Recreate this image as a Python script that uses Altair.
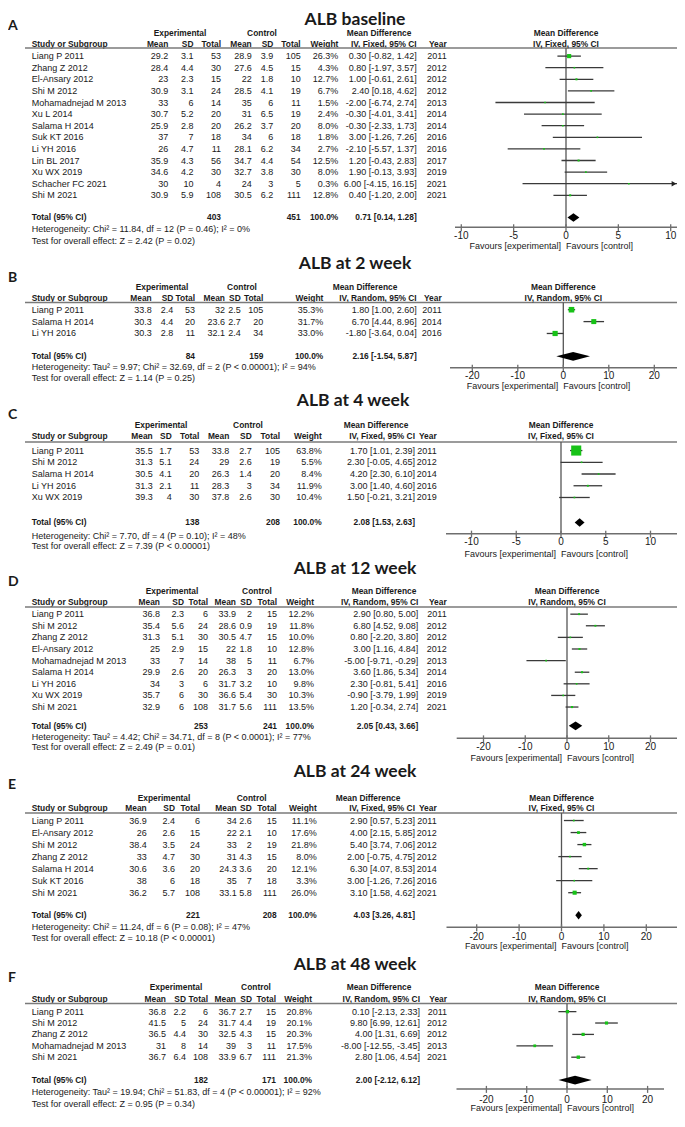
import altair as alt
import pandas as pd

FONT = "Liberation Sans"
TFONT = "Lato"
TXT = "#1a1a1a"
GREEN = "#17c217"
FS = 9.0
HFS = 8.4

# ---------------- data ----------------
# Panel A : ALB baseline (IV, Fixed)
A_study = ["Liang P 2011", "Zhang Z 2012", "El-Ansary 2012", "Shi M 2012", "Mohamadnejad  M 2013",
           "Xu L 2014", "Salama H 2014", "Suk KT 2016", "Li YH 2016", "Lin BL 2017", "Xu WX 2019",
           "Schacher FC 2021", "Shi M 2021"]
A_exp_mean = [29.2, 28.4, 23, 30.9, 33, 30.7, 25.9, 37, 26, 35.9, 34.6, 30, 30.9]
A_exp_sd = [3.1, 4.4, 2.3, 3.1, 6, 5.2, 2.8, 7, 4.7, 4.3, 4.2, 10, 5.9]
A_exp_n = [53, 30, 15, 24, 14, 20, 20, 18, 11, 56, 30, 4, 108]
A_ctl_mean = [28.9, 27.6, 22, 28.5, 35, 31, 26.2, 34, 28.1, 34.7, 32.7, 24, 30.5]
A_ctl_sd = [3.9, 4.5, 1.8, 4.1, 6, 6.5, 3.7, 6, 6.2, 4.4, 3.8, 3, 6.2]
A_ctl_n = [105, 15, 10, 19, 11, 19, 20, 18, 34, 54, 30, 5, 111]
A_weight = [26.3, 4.3, 12.7, 6.7, 1.5, 2.4, 8.0, 1.8, 2.7, 12.5, 8.0, 0.3, 12.8]
A_md = [0.30, 0.80, 1.00, 2.40, -2.00, -0.30, -0.30, 3.00, -2.10, 1.20, 1.90, 6.00, 0.40]
A_lo = [-0.82, -1.97, -0.61, 0.18, -6.74, -4.01, -2.33, -1.26, -5.57, -0.43, -0.13, -4.15, -1.20]
A_hi = [1.42, 3.57, 2.61, 4.62, 2.74, 3.41, 1.73, 7.26, 1.37, 2.83, 3.93, 16.15, 2.00]
A_year = [2011, 2012, 2012, 2012, 2013, 2014, 2014, 2016, 2016, 2017, 2019, 2021, 2021]
A_total = [403, 451, 0.71, 0.14, 1.28]
A_het = "Heterogeneity: Chi² = 11.84, df = 12 (P = 0.46); I² = 0%"
A_test = "Test for overall effect: Z = 2.42 (P = 0.02)"
A_ticks = [-10, -5, 0, 5, 10]

# Panel B : ALB at 2 week (IV, Random)
B_study = ["Liang P 2011", "Salama H 2014", "Li YH 2016"]
B_exp_mean = [33.8, 30.3, 30.3]
B_exp_sd = [2.4, 4.4, 2.8]
B_exp_n = [53, 20, 11]
B_ctl_mean = [32, 23.6, 32.1]
B_ctl_sd = [2.5, 2.7, 2.4]
B_ctl_n = [105, 20, 34]
B_weight = [35.3, 31.7, 33.0]
B_md = [1.80, 6.70, -1.80]
B_lo = [1.00, 4.44, -3.64]
B_hi = [2.60, 8.96, 0.04]
B_year = [2011, 2014, 2016]
B_total = [84, 159, 2.16, -1.54, 5.87]
B_het = "Heterogeneity: Tau² = 9.97; Chi² = 32.69, df = 2 (P < 0.00001); I² = 94%"
B_test = "Test for overall effect: Z = 1.14 (P = 0.25)"
B_ticks = [-20, -10, 0, 10, 20]

# Panel C : ALB at 4 week (IV, Fixed)
C_study = ["Liang P 2011", "Shi M 2012", "Salama H 2014", "Li YH 2016", "Xu WX 2019"]
C_exp_mean = [35.5, 31.3, 30.5, 31.3, 39.3]
C_exp_sd = [1.7, 5.1, 4.1, 2.1, 4]
C_exp_n = [53, 24, 20, 11, 30]
C_ctl_mean = [33.8, 29, 26.3, 28.3, 37.8]
C_ctl_sd = [2.7, 2.6, 1.4, 3, 2.6]
C_ctl_n = [105, 19, 20, 34, 30]
C_weight = [63.8, 5.5, 8.4, 11.9, 10.4]
C_md = [1.70, 2.30, 4.20, 3.00, 1.50]
C_lo = [1.01, -0.05, 2.30, 1.40, -0.21]
C_hi = [2.39, 4.65, 6.10, 4.60, 3.21]
C_year = [2011, 2012, 2014, 2016, 2019]
C_total = [138, 208, 2.08, 1.53, 2.63]
C_het = "Heterogeneity: Chi² = 7.70, df = 4 (P = 0.10); I² = 48%"
C_test = "Test for overall effect: Z = 7.39 (P < 0.00001)"
C_ticks = [-10, -5, 0, 5, 10]

# Panel D : ALB at 12 week (IV, Random)
D_study = ["Liang P 2011", "Shi M 2012", "Zhang Z 2012", "El-Ansary 2012", "Mohamadnejad  M 2013",
           "Salama H 2014", "Li YH 2016", "Xu WX 2019", "Shi M 2021"]
D_exp_mean = [36.8, 35.4, 31.3, 25, 33, 29.9, 34, 35.7, 32.9]
D_exp_sd = [2.3, 5.6, 5.1, 2.9, 7, 2.6, 3, 6, 6]
D_exp_n = [6, 24, 30, 15, 14, 20, 6, 30, 108]
D_ctl_mean = [33.9, 28.6, 30.5, 22, 38, 26.3, 31.7, 36.6, 31.7]
D_ctl_sd = [2, 0.9, 4.7, 1.8, 5, 3, 3.2, 5.4, 5.6]
D_ctl_n = [15, 19, 15, 10, 11, 20, 10, 30, 111]
D_weight = [12.2, 11.8, 10.0, 12.8, 6.7, 13.0, 9.8, 10.3, 13.5]
D_md = [2.90, 6.80, 0.80, 3.00, -5.00, 3.60, 2.30, -0.90, 1.20]
D_lo = [0.80, 4.52, -2.20, 1.16, -9.71, 1.86, -0.81, -3.79, -0.34]
D_hi = [5.00, 9.08, 3.80, 4.84, -0.29, 5.34, 5.41, 1.99, 2.74]
D_year = [2011, 2012, 2012, 2012, 2013, 2014, 2016, 2019, 2021]
D_total = [253, 241, 2.05, 0.43, 3.66]
D_het = "Heterogeneity: Tau² = 4.42; Chi² = 34.71, df = 8 (P < 0.0001); I² = 77%"
D_test = "Test for overall effect: Z = 2.49 (P = 0.01)"
D_ticks = [-20, -10, 0, 10, 20]

# Panel E : ALB at 24 week (IV, Fixed)
E_study = ["Liang P 2011", "El-Ansary 2012", "Shi M 2012", "Zhang Z 2012", "Salama H 2014",
           "Suk KT 2016", "Shi M 2021"]
E_exp_mean = [36.9, 26, 38.4, 33, 30.6, 38, 36.2]
E_exp_sd = [2.4, 2.6, 3.5, 4.7, 3.6, 6, 5.7]
E_exp_n = [6, 15, 24, 30, 20, 18, 108]
E_ctl_mean = [34, 22, 33, 31, 24.3, 35, 33.1]
E_ctl_sd = [2.6, 2.1, 2, 4.3, 3.6, 7, 5.8]
E_ctl_n = [15, 10, 19, 15, 20, 18, 111]
E_weight = [11.1, 17.6, 21.8, 8.0, 12.1, 3.3, 26.0]
E_md = [2.90, 4.00, 5.40, 2.00, 6.30, 3.00, 3.10]
E_lo = [0.57, 2.15, 3.74, -0.75, 4.07, -1.26, 1.58]
E_hi = [5.23, 5.85, 7.06, 4.75, 8.53, 7.26, 4.62]
E_year = [2011, 2012, 2012, 2012, 2014, 2016, 2021]
E_total = [221, 208, 4.03, 3.26, 4.81]
E_het = "Heterogeneity: Chi² = 11.24, df = 6 (P = 0.08); I² = 47%"
E_test = "Test for overall effect: Z = 10.18 (P < 0.00001)"
E_ticks = [-20, -10, 0, 10, 20]

# Panel F : ALB at 48 week (IV, Random)
F_study = ["Liang P 2011", "Shi M 2012", "Zhang Z 2012", "Mohamadnejad  M 2013", "Shi M 2021"]
F_exp_mean = [36.8, 41.5, 36.5, 31, 36.7]
F_exp_sd = [2.2, 5, 4.4, 8, 6.4]
F_exp_n = [6, 24, 30, 14, 108]
F_ctl_mean = [36.7, 31.7, 32.5, 39, 33.9]
F_ctl_sd = [2.7, 4.4, 4.3, 3, 6.7]
F_ctl_n = [15, 19, 15, 11, 111]
F_weight = [20.8, 20.1, 20.3, 17.5, 21.3]
F_md = [0.10, 9.80, 4.00, -8.00, 2.80]
F_lo = [-2.13, 6.99, 1.31, -12.55, 1.06]
F_hi = [2.33, 12.61, 6.69, -3.45, 4.54]
F_year = [2011, 2012, 2012, 2013, 2021]
F_total = [182, 171, 2.00, -2.12, 6.12]
F_het = "Heterogeneity: Tau² = 19.94; Chi² = 51.83, df = 4 (P < 0.00001); I² = 92%"
F_test = "Test for overall effect: Z = 0.95 (P = 0.34)"
F_ticks = [-20, -10, 0, 10, 20]

titles = ["ALB baseline", "ALB at 2 week", "ALB at 4 week", "ALB at 12 week", "ALB at 24 week", "ALB at 48 week"]
letters = ["A", "B", "C", "D", "E", "F"]
methods = ["IV, Fixed, 95% CI", "IV, Random, 95% CI", "IV, Fixed, 95% CI",
           "IV, Random, 95% CI", "IV, Fixed, 95% CI", "IV, Random, 95% CI"]

# ---------------- layout (reference page pixels) ----------------
LAYOUT = [
    dict(title_x=355, title_y=9, letter_y=15, h1=21.7, h2=33.3, line=37.3, row0=45.7, step=11.86,
         total=210.7, het=222.7, test=234.3, axis=220.7, ticklab=230, fav=240,
         cols=[31.7, 168.3, 193.5, 221, 251.7, 273.3, 300.7, 338.3, 416.7, 446.7],
         hx=[180, 262, 379], zero=566, ppu=10.47, axL=455, axR=677),
    dict(title_x=355, title_y=258, letter_y=272.3, h1=281.7, h2=292.7, line=297.5, row0=305, step=12.15,
         total=352.7, het=364, test=375.3, axis=364.3, ticklab=372.7, fav=383.5,
         cols=[31.7, 151.7, 173.3, 195, 225, 240.7, 263.3, 323.3, 416.7, 441.7],
         hx=[162, 242, 365], zero=563.3, ppu=4.55, axL=450, axR=677),
    dict(title_x=353, title_y=398.5, letter_y=412.5, h1=423.3, h2=434.3, line=440.3, row0=449, step=12.0,
         total=522.5, het=536.7, test=546.7, axis=534, ticklab=542.7, fav=554.3,
         cols=[31.7, 152.7, 171.7, 199.3, 229.3, 251.7, 280, 321.7, 415, 436.7],
         hx=[161, 248, 376], zero=561, ppu=8.95, axL=446, axR=677),
    dict(title_x=355, title_y=570, letter_y=583, h1=592.7, h2=604, line=609, row0=616.3, step=11.87,
         total=730.5, het=741.7, test=751.7, axis=743.3, ticklab=752.3, fav=763.3,
         cols=[31.7, 160, 184, 208, 236, 252, 277, 314, 418.3, 446.7],
         hx=[172, 257, 384], zero=567, ppu=4.175, axL=456.7, axR=677),
    dict(title_x=355, title_y=778, letter_y=791, h1=804.3, h2=814, line=819.5, row0=827.3, step=12.3,
         total=924.2, het=936, test=947.5, axis=936.5, ticklab=946, fav=956,
         cols=[31.7, 146.7, 175, 200, 236.7, 251.7, 276.7, 316.7, 415, 436.7],
         hx=[164, 251.7, 368], zero=561.5, ppu=4.24, axL=446.5, axR=677),
    dict(title_x=355, title_y=975, letter_y=988, h1=998, h2=1010, line=1014.5, row0=1022.7, step=11.65,
         total=1092.7, het=1104.7, test=1116.7, axis=1101.7, ticklab=1112.7, fav=1121.7,
         cols=[31.7, 166, 186, 208, 236, 252, 276, 312, 420, 447],
         hx=[176, 256, 379], zero=567, ppu=4.03, axL=456.5, axR=664),
]

W, H = 669, 1108
KY = 0.978


def X(px):
    return min(max(px - 8, 0), W)


def Y(py):
    return (py + 3.5) * KY


ONE = pd.DataFrame({"z": [0]})


def num(v):
    return f"{v:g}"


def vtext(s, x, y, align="left", bold=False, size=FS, font=FONT):
    return alt.Chart(ONE).mark_text(
        text=s, align=align, baseline="middle", font=font, fontSize=size,
        fontWeight="bold" if bold else "normal", color=TXT
    ).encode(x=alt.value(x), y=alt.value(y))


def panel(i, P):
    L = LAYOUT[i]
    n = len(P["study"])
    c = L["cols"]
    ys = alt.Scale(domain=[0, 1], range=[Y(L["row0"]), Y(L["row0"] + L["step"])], zero=False, nice=False)
    dmin = (L["axL"] - L["zero"]) / L["ppu"]
    dmax = (L["axR"] - L["zero"]) / L["ppu"]
    xs = alt.Scale(domain=[dmin, dmax], range=[X(L["axL"]), X(L["axR"])], zero=False, nice=False, clamp=True)
    yrow = alt.Y("row:Q", scale=ys, axis=None)

    rows = pd.DataFrame({
        "row": list(range(n)),
        "name": P["study"],
        "m1": [num(v) for v in P["exp_mean"]],
        "sd1": [num(v) for v in P["exp_sd"]],
        "n1": [num(v) for v in P["exp_n"]],
        "m2": [num(v) for v in P["ctl_mean"]],
        "sd2": [num(v) for v in P["ctl_sd"]],
        "n2": [num(v) for v in P["ctl_n"]],
        "w": [f"{v:.1f}%" for v in P["weight"]],
        "ci": [f"{m:.2f} [{a:.2f}, {b:.2f}]" for m, a, b in zip(P["md"], P["lo"], P["hi"])],
        "yr": [str(v) for v in P["year"]],
        "md": P["md"], "lo": P["lo"], "hi": P["hi"],
        "sq": [max(1.6, 0.158 * v) ** 2 for v in P["weight"]],
    })
    T = P["total"]
    r_t = (L["total"] - L["row0"]) / L["step"]
    tot = pd.DataFrame({
        "row": [r_t], "name": ["Total (95% CI)"], "n1": [num(T[0])], "n2": [num(T[1])],
        "w": ["100.0%"], "ci": [f"{T[2]:.2f} [{T[3]:.2f}, {T[4]:.2f}]"],
    })
    hh = 4.3 / (L["step"] * KY)
    dia = pd.DataFrame({"x": [T[3], T[2], T[4]], "y": [r_t, r_t - hh, r_t], "y2": [r_t, r_t + hh, r_t]})
    ticks = pd.DataFrame({"t": P["ticks"], "lab": [str(t) for t in P["ticks"]]})
    ends = pd.DataFrame({"a": [dmin], "b": [dmax]})

    layers = []
    # title and letter
    layers.append(vtext(titles[i], X(L["title_x"]), Y(L["title_y"]), align="center", bold=True, size=17.5, font=TFONT))
    layers.append(vtext(letters[i], 0, Y(L["letter_y"]), align="left", bold=True, size=14, font=TFONT))
    # header rows
    layers.append(vtext("Experimental", X(L["hx"][0]), Y(L["h1"]), align="center", bold=True, size=HFS))
    layers.append(vtext("Control", X(L["hx"][1]), Y(L["h1"]), align="center", bold=True, size=HFS))
    layers.append(vtext("Mean Difference", X(L["hx"][2]), Y(L["h1"]), align="center", bold=True, size=HFS))
    layers.append(vtext("Study or Subgroup", X(c[0]), Y(L["h2"]), align="left", bold=True, size=HFS))
    heads = ["Mean", "SD", "Total", "Mean", "SD", "Total", "Weight", methods[i], "Year"]
    for k, h in enumerate(heads):
        layers.append(vtext(h, X(c[k + 1]), Y(L["h2"]), align="right", bold=True, size=HFS))
    # header line
    layers.append(alt.Chart(ONE).mark_rule(color="#7a7a7a", strokeWidth=1.5).encode(
        x=alt.value(X(25)), x2=alt.value(W), y=alt.value(Y(L["line"]))))
    # study rows
    layers.append(alt.Chart(rows).mark_text(align="left", font=FONT, fontSize=FS, color=TXT).encode(
        x=alt.value(X(c[0])), y=yrow, text="name:N"))
    for k, col in enumerate(["m1", "sd1", "n1", "m2", "sd2", "n2", "w", "ci", "yr"]):
        layers.append(alt.Chart(rows).mark_text(align="right", font=FONT, fontSize=FS, color=TXT).encode(
            x=alt.value(X(c[k + 1])), y=yrow, text=f"{col}:N"))
    # total row
    layers.append(alt.Chart(tot).mark_text(align="left", font=FONT, fontSize=HFS, fontWeight="bold", color=TXT).encode(
        x=alt.value(X(c[0])), y=yrow, text="name:N"))
    for col, k in [("n1", 3), ("n2", 6), ("w", 7), ("ci", 8)]:
        layers.append(alt.Chart(tot).mark_text(align="right", font=FONT, fontSize=HFS, fontWeight="bold", color=TXT).encode(
            x=alt.value(X(c[k])), y=yrow, text=f"{col}:N"))
    # footnotes
    layers.append(vtext(P["het"], X(c[0]), Y(L["het"])))
    layers.append(vtext(P["test"], X(c[0]), Y(L["test"])))

    # forest plot
    xz = alt.X("z:Q", scale=xs, axis=None)
    layers.append(alt.Chart(ONE).mark_text(text="Mean Difference", font=FONT, fontSize=HFS, fontWeight="bold", color=TXT).encode(
        x=xz, y=alt.value(Y(L["h1"]))))
    layers.append(alt.Chart(ONE).mark_text(text=methods[i], font=FONT, fontSize=HFS, fontWeight="bold", color=TXT).encode(
        x=xz, y=alt.value(Y(L["h2"]))))
    layers.append(alt.Chart(ONE).mark_rule(color="#555555", strokeWidth=1.3).encode(
        x=xz, y=alt.value(Y(L["line"])), y2=alt.value(Y(L["axis"]))))
    layers.append(alt.Chart(rows).mark_rule(color="#3a3a3a", strokeWidth=1.3).encode(
        x=alt.X("lo:Q", scale=xs, axis=None), x2="hi:Q", y=yrow))
    layers.append(alt.Chart(rows).mark_square(color=GREEN, opacity=1).encode(
        x=alt.X("md:Q", scale=xs, axis=None), y=yrow, size=alt.Size("sq:Q", scale=None)))
    over = rows[rows["hi"] > dmax]
    if len(over):
        layers.append(alt.Chart(over).mark_point(shape="triangle-right", filled=True, color="#222222", opacity=1, size=30, xOffset=-3).encode(
            x=alt.X("hi:Q", scale=xs, axis=None), y=yrow))
    layers.append(alt.Chart(dia).mark_area(color="#000000", orient="vertical", opacity=1).encode(
        x=alt.X("x:Q", scale=xs, axis=None), y=alt.Y("y:Q", scale=ys, axis=None), y2="y2:Q"))
    # axis
    ay = Y(L["axis"])
    layers.append(alt.Chart(ends).mark_rule(color="#6e6e6e", strokeWidth=1.5).encode(
        x=alt.X("a:Q", scale=xs, axis=None), x2="b:Q", y=alt.value(ay)))
    layers.append(alt.Chart(ticks).mark_rule(color="#6e6e6e", strokeWidth=1.3).encode(
        x=alt.X("t:Q", scale=xs, axis=None), y=alt.value(ay - 3), y2=alt.value(ay + 4)))
    layers.append(alt.Chart(ticks).mark_text(font=FONT, fontSize=10, color=TXT).encode(
        x=alt.X("t:Q", scale=xs, axis=None), y=alt.value(Y(L["ticklab"])), text="lab:N"))
    layers.append(alt.Chart(ONE).mark_text(text="Favours [experimental]", align="right", dx=-5, font=FONT, fontSize=FS, color=TXT).encode(
        x=xz, y=alt.value(Y(L["fav"]))))
    layers.append(alt.Chart(ONE).mark_text(text="Favours [control]", align="left", dx=0, font=FONT, fontSize=FS, color=TXT).encode(
        x=xz, y=alt.value(Y(L["fav"]))))
    return alt.layer(*layers)


def pack(prefix):
    g = globals()
    return dict(study=g[prefix + "_study"], exp_mean=g[prefix + "_exp_mean"], exp_sd=g[prefix + "_exp_sd"],
                exp_n=g[prefix + "_exp_n"], ctl_mean=g[prefix + "_ctl_mean"], ctl_sd=g[prefix + "_ctl_sd"],
                ctl_n=g[prefix + "_ctl_n"], weight=g[prefix + "_weight"], md=g[prefix + "_md"],
                lo=g[prefix + "_lo"], hi=g[prefix + "_hi"], year=g[prefix + "_year"],
                total=g[prefix + "_total"], het=g[prefix + "_het"], test=g[prefix + "_test"],
                ticks=g[prefix + "_ticks"])


panels = [panel(i, pack(p)) for i, p in enumerate(["A", "B", "C", "D", "E", "F"])]

chart = alt.layer(*panels).resolve_scale(x="independent", y="independent").properties(
    width=W, height=H, padding=0, autosize=alt.AutoSizeParams(type="none")
).configure_view(stroke=None)

chart.save("out.html", embed_options={"renderer": "svg", "actions": False})
